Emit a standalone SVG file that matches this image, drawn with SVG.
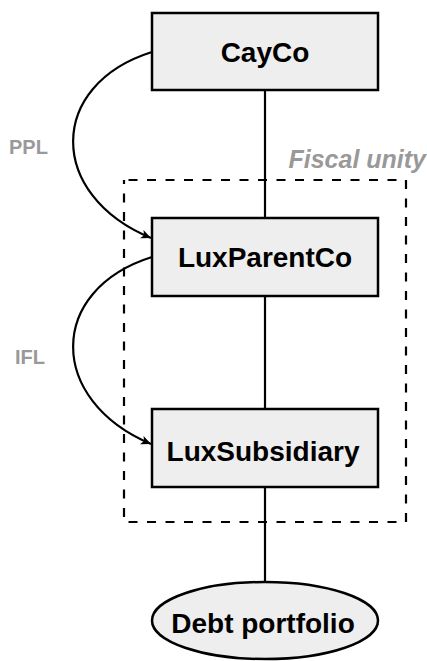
<svg xmlns="http://www.w3.org/2000/svg" width="427" height="661" viewBox="0 0 427 661">
  <style>
    .box { fill: #eeeeee; stroke: #000; stroke-width: 2.5; }
    .lbl { font-family: "Liberation Sans", Arial, sans-serif; font-weight: bold; font-size: 28px; fill: #000; text-anchor: middle; }
    .edge { fill: none; stroke: #000; stroke-width: 2.2; }
    .tag { font-family: "Liberation Sans", Arial, sans-serif; font-weight: bold; font-size: 20px; fill: #999999; }
    .group { fill: none; stroke: #000; stroke-width: 2.2; stroke-dasharray: 9 9.5; }
  </style>
  <defs>
    <marker id="arrow" markerUnits="userSpaceOnUse" markerWidth="12" markerHeight="10" refX="10" refY="4.5" orient="auto">
      <path d="M0,0 L10,4.5 L0,9 L2.5,4.5 Z" fill="#000"/>
    </marker>
  </defs>

  <!-- fiscal unity boundary -->
  <g id="fiscal-unity">
    <rect class="group" x="124" y="180" width="282" height="342" stroke-dashoffset="14"/>
    <text x="426" y="168" font-family="Liberation Sans, Arial, sans-serif" font-weight="bold" font-style="italic" font-size="25" fill="#999999" text-anchor="end">Fiscal unity</text>
  </g>

  <!-- connectors -->
  <g id="connectors">
    <line class="edge" x1="265" y1="90" x2="265" y2="218"/>
    <line class="edge" x1="265" y1="296" x2="265" y2="409"/>
    <line class="edge" x1="265" y1="487" x2="265" y2="582"/>
    <path class="edge" d="M152,52 C47,85 47,195 151,238" marker-end="url(#arrow)"/>
    <path class="edge" d="M152,257 C47,290 47,400 151,444" marker-end="url(#arrow)"/>
    <text class="tag" x="9" y="154">PPL</text>
    <text class="tag" x="15" y="364">IFL</text>
  </g>

  <g id="cayco">
    <rect class="box" x="152" y="13" width="226" height="77"/>
    <text class="lbl" x="265" y="62">CayCo</text>
  </g>

  <g id="luxparentco">
    <rect class="box" x="152" y="218" width="226" height="78"/>
    <text class="lbl" x="265" y="267">LuxParentCo</text>
  </g>

  <g id="luxsubsidiary">
    <rect class="box" x="152" y="409" width="226" height="78"/>
    <text class="lbl" x="263" y="461">LuxSubsidiary</text>
  </g>

  <g id="debt-portfolio">
    <ellipse class="box" cx="265" cy="620.5" rx="113" ry="38.5"/>
    <text class="lbl" x="263" y="633">Debt portfolio</text>
  </g>
</svg>
